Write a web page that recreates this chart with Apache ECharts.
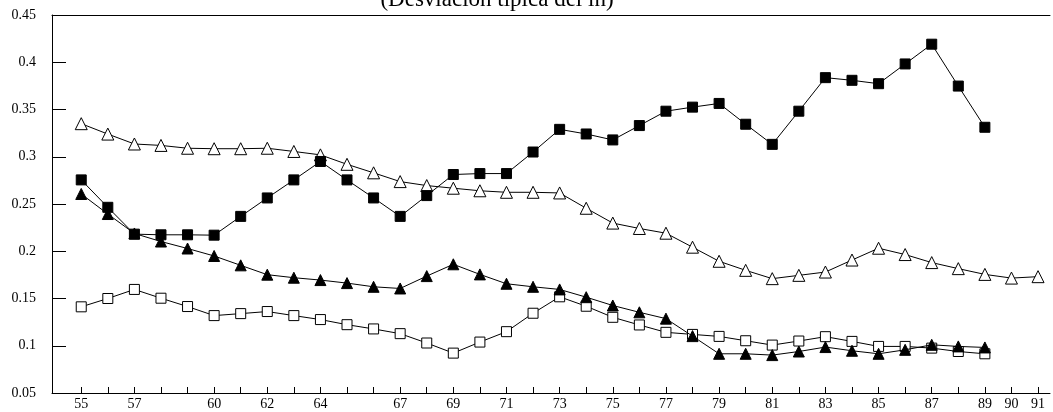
<!DOCTYPE html>
<html>
<head>
<meta charset="utf-8">
<script src="https://cdn.jsdelivr.net/npm/echarts@6/dist/echarts.min.js"></script>
<style>
  html, body { margin: 0; padding: 0; background: #fff; }
  #chart { width: 1053px; height: 412px; }
</style>
</head>
<body>
<div id="chart"></div>
<script>
// Years 1955-1991 on the x axis
const allYears = [55,56,57,58,59,60,61,62,63,64,65,66,67,68,69,70,71,72,73,74,75,76,77,78,79,80,81,82,83,84,85,86,87,88,89,90,91];
const labeledYears = [55,57,60,62,64,67,69,71,73,75,77,79,81,83,85,87,89,90,91];
const yTicks = [0.05,0.1,0.15,0.2,0.25,0.3,0.35,0.4,0.45];

// Open triangles: 1955-1991
const openTriYears = allYears;
const openTriValues = [0.335,0.324,0.3135,0.312,0.309,0.3085,0.3085,0.309,0.3056,0.302,0.292,
  0.283,0.2737,0.2695,0.2667,0.264,0.2624,0.2624,0.2617,0.2455,0.2298,0.2241,0.2191,0.2043,
  0.1894,0.1798,0.171,0.1745,0.178,0.1907,0.2032,0.1965,0.188,0.1816,0.1755,0.1716,0.1731];

// Filled squares: 1955-1989
const fillSqYears = allYears.slice(0, 35);
const fillSqValues = [0.2755,0.2465,0.2181,0.2174,0.2174,0.217,0.2369,0.2564,0.2755,0.295,0.2755,
  0.2564,0.2369,0.2589,0.2812,0.2822,0.2822,0.305,0.329,0.3241,0.3178,0.333,0.3482,0.3525,
  0.3564,0.3344,0.3131,0.3482,0.3837,0.3809,0.3773,0.3982,0.4191,0.3748,0.3312];

// Filled triangles: 1955-1989
const fillTriYears = allYears.slice(0, 35);
const fillTriValues = [0.2606,0.2394,0.2188,0.2103,0.2029,0.195,0.1851,0.1752,0.172,0.1695,0.1663,
  0.1624,0.1606,0.1737,0.1862,0.1755,0.1656,0.1624,0.1596,0.1514,0.1426,0.1354,0.1287,0.1102,
  0.0915,0.0915,0.0901,0.0939,0.0986,0.0947,0.0915,0.0957,0.101,0.0993,0.0982];

// Open squares: 1955-1989
const openSqYears = allYears.slice(0, 35);
const openSqValues = [0.1412,0.15,0.1596,0.1503,0.1415,0.1319,0.134,0.1362,0.1319,0.1277,0.1223,
  0.1178,0.1128,0.1029,0.0922,0.1039,0.1149,0.1344,0.1518,0.1418,0.1301,0.122,0.1142,0.112,
  0.1099,0.1053,0.1007,0.105,0.1096,0.1046,0.0993,0.0993,0.0975,0.0939,0.0915];

const titleText = '(Desviación típica del ln)';

const pairs = (xs, ys) => xs.map((x, i) => [x, ys[i]]);
const serif = 'Liberation Serif';

function lineSeries(name, xs, ys, symbol, size, filled) {
  return {
    name, type: 'line', data: pairs(xs, ys),
    symbol, symbolSize: size,
    lineStyle: { color: '#000', width: 1 },
    itemStyle: { color: filled ? '#000' : '#fff', borderColor: '#000', borderWidth: 1 },
    emphasis: { disabled: true },
    animation: false, z: filled ? 3 : 2
  };
}

const chart = echarts.init(document.getElementById('chart'), null, { renderer: 'canvas' });
chart.setOption({
  backgroundColor: '#fff',
  animation: false,
  grid: { left: 52, right: 3, top: 15, bottom: 19 },
  graphic: [{
    type: 'text', z: 10,
    style: {
      text: titleText, x: 497, y: 11, align: 'center', verticalAlign: 'bottom',
      font: '23px "' + serif + '"', fill: '#000'
    }
  }],
  xAxis: [{
    type: 'value', min: 53.9, max: 91.45,
    splitLine: { show: false },
    axisLine: { show: true, lineStyle: { color: '#000', width: 1 } },
    axisTick: { show: true, inside: true, length: 6, customValues: allYears, lineStyle: { color: '#000' } },
    axisLabel: { customValues: labeledYears, color: '#000', fontFamily: serif, fontSize: 14, margin: 4 }
  }, {
    type: 'value', position: 'top', min: 53.9, max: 91.45,
    splitLine: { show: false },
    axisLine: { show: true, lineStyle: { color: '#000', width: 1 } },
    axisTick: { show: false }, axisLabel: { show: false }
  }],
  yAxis: {
    type: 'value', min: 0.05, max: 0.45, interval: 0.05,
    splitLine: { show: false },
    axisLine: { show: true, lineStyle: { color: '#000', width: 1 } },
    axisTick: { show: true, inside: true, length: 14, lineStyle: { color: '#000' } },
    axisLabel: {
      customValues: yTicks, color: '#000', fontFamily: serif, fontSize: 14, margin: 16,
      formatter: v => String(Math.round(v * 100) / 100)
    }
  },
  series: [
    lineSeries('open-tri', openTriYears, openTriValues, 'triangle', 12, false),
    lineSeries('open-sq', openSqYears, openSqValues, 'rect', 10, false),
    lineSeries('fill-tri', fillTriYears, fillTriValues, 'triangle', 11, true),
    lineSeries('fill-sq', fillSqYears, fillSqValues, 'rect', 10, true)
  ]
});
</script>
</body>
</html>
